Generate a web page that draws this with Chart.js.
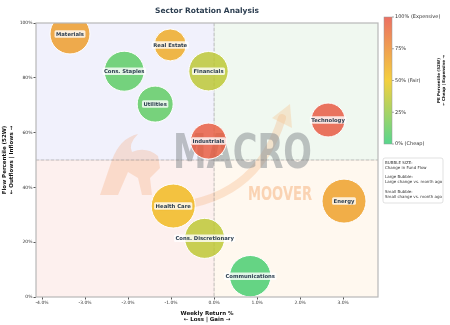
<!DOCTYPE html>
<html>
<head>
<meta charset="utf-8">
<script src="https://cdn.jsdelivr.net/npm/chart.js@4.4.0/dist/chart.umd.min.js"></script>
<style>
html, body { margin: 0; padding: 0; background: #fff; }
</style>
</head>
<body>
<canvas id="sectorChart" width="450" height="325"></canvas>
<script>
// Dados dos setores
const sectors = ['Materials', 'Real Estate', 'Cons. Staples', 'Financials', 'Utilities', 'Technology',
    'Industrials', 'Health Care', 'Energy', 'Cons. Discretionary', 'Communications'];
const weeklyReturn = [-3.35, -1.02, -2.09, -0.13, -1.37, 2.65, -0.13, -0.95, 3.02, -0.22, 0.84];
const flowPercentile = [96, 92, 82.4, 82.4, 70.4, 64.6, 56.9, 33.2, 35.0, 21.4, 7.6];
const pePercentile = [68, 62, 10, 36, 11, 98, 96, 56, 67, 36, 4];
const flowChange = [100, 64, 100, 97, 81, 72, 81, 121, 121, 100, 107];

const xTicks = [-4, -3, -2, -1, 0, 1, 2, 3];
const yTicks = [0, 20, 40, 60, 80, 100];
const peTicks = [0, 25, 50, 75, 100];
const peTickLabels = ['0% (Cheap)', '25%', '50% (Fair)', '75%', '100% (Expensive)'];
const legendLines = ['BUBBLE SIZE:', 'Change in Fund Flow', '', 'Large Bubble:', 'Large change vs. month ago',
    '', 'Small Bubble:', 'Small change vs. month ago'];

const FONT = "'DejaVu Sans', sans-serif";
const textDark = '#2c3e50';

// Escala de cor: verde (barato) -> amarelo -> vermelho (caro)
const stops = [[46, 204, 113], [241, 196, 15], [231, 76, 60]];
function peColor(p, alpha = 0.8) {
    const t = Math.max(0, Math.min(1, p / 100)) * 2;
    const i = Math.min(1, Math.floor(t));
    const f = t - i;
    const a = stops[i], b = stops[i + 1];
    const c = a.map((v, k) => Math.round(v + (b[k] - v) * f));
    return `rgba(${c[0]},${c[1]},${c[2]},${alpha})`;
}

// Fundo dos quadrantes, linhas de referência e marca d'água
const quadrantPlugin = {
    id: 'quadrants',
    beforeDraw(chart) {
        const { ctx, chartArea: a, scales: { x, y } } = chart;
        const x0 = x.getPixelForValue(0);
        const y50 = y.getPixelForValue(50);
        ctx.save();
        ctx.fillStyle = '#fff';
        ctx.fillRect(0, 0, chart.width, chart.height);
        ctx.fillStyle = '#f1f1fc';
        ctx.fillRect(a.left, a.top, x0 - a.left, y50 - a.top);
        ctx.fillStyle = '#f0f8f0';
        ctx.fillRect(x0, a.top, a.right - x0, y50 - a.top);
        ctx.fillStyle = '#fdf0ee';
        ctx.fillRect(a.left, y50, x0 - a.left, a.bottom - y50);
        ctx.fillStyle = '#fff8ef';
        ctx.fillRect(x0, y50, a.right - x0, a.bottom - y50);
        ctx.restore();
    },
    beforeDatasetsDraw(chart) {
        const { ctx, chartArea: a, scales: { x, y } } = chart;
        const x0 = x.getPixelForValue(0);
        const y50 = y.getPixelForValue(50);
        ctx.save();
        ctx.beginPath();
        ctx.rect(a.left, a.top, a.right - a.left, a.bottom - a.top);
        ctx.clip();

        // marca d'água: cabeça de touro + seta
        ctx.fillStyle = 'rgba(246, 160, 110, 0.28)';
        ctx.beginPath();
        ctx.moveTo(100, 195);
        ctx.lineTo(112, 160);
        ctx.quadraticCurveTo(120, 138, 138, 134);
        ctx.quadraticCurveTo(128, 144, 132, 152);
        ctx.quadraticCurveTo(146, 146, 158, 156);
        ctx.lineTo(160, 168);
        ctx.lineTo(150, 178);
        ctx.lineTo(152, 195);
        ctx.lineTo(142, 195);
        ctx.lineTo(138, 178);
        ctx.lineTo(128, 172);
        ctx.lineTo(118, 195);
        ctx.closePath();
        ctx.fill();

        ctx.strokeStyle = 'rgba(246, 170, 110, 0.28)';
        ctx.lineWidth = 8;
        ctx.lineCap = 'round';
        ctx.beginPath();
        ctx.moveTo(160, 207);
        ctx.quadraticCurveTo(255, 205, 282, 118);
        ctx.stroke();
        ctx.fillStyle = 'rgba(246, 195, 140, 0.35)';
        ctx.beginPath();
        ctx.moveTo(290, 104);
        ctx.lineTo(292, 128);
        ctx.lineTo(272, 118);
        ctx.closePath();
        ctx.fill();

        ctx.textBaseline = 'alphabetic';
        ctx.textAlign = 'left';
        ctx.font = `bold 48px ${FONT}`;
        let w = ctx.measureText('MACRO').width;
        ctx.save();
        ctx.translate(173, 168);
        ctx.scale(139 / w, 1);
        ctx.fillStyle = 'rgba(140, 146, 150, 0.55)';
        ctx.fillText('MACRO', 0, 0);
        ctx.restore();

        ctx.font = `bold 20px ${FONT}`;
        w = ctx.measureText('MOOVER').width;
        ctx.save();
        ctx.translate(248, 200);
        ctx.scale(64 / w, 1);
        ctx.fillStyle = 'rgba(246, 180, 130, 0.55)';
        ctx.fillText('MOOVER', 0, 0);
        ctx.restore();

        // linhas tracejadas de referência
        ctx.strokeStyle = 'rgba(120, 120, 120, 0.6)';
        ctx.lineWidth = 0.8;
        ctx.setLineDash([3, 2]);
        ctx.beginPath();
        ctx.moveTo(x0, a.top);
        ctx.lineTo(x0, a.bottom);
        ctx.moveTo(a.left, y50);
        ctx.lineTo(a.right, y50);
        ctx.stroke();
        ctx.restore();
    }
};

// Rótulos dos setores sobre as bolhas
const labelPlugin = {
    id: 'bubbleLabels',
    afterDatasetsDraw(chart) {
        const { ctx } = chart;
        const meta = chart.getDatasetMeta(0);
        ctx.save();
        ctx.font = `bold 5.3px ${FONT}`;
        ctx.textAlign = 'center';
        ctx.textBaseline = 'middle';
        meta.data.forEach((pt, i) => {
            const w = ctx.measureText(sectors[i]).width + 3;
            const h = 7.5;
            ctx.fillStyle = 'rgba(255,255,255,0.8)';
            ctx.beginPath();
            ctx.roundRect(pt.x - w / 2, pt.y - h / 2, w, h, 1.5);
            ctx.fill();
            ctx.fillStyle = textDark;
            ctx.fillText(sectors[i], pt.x, pt.y + 0.3);
        });
        ctx.restore();
    }
};

// Moldura, barra de cores e caixa de legenda
const sidePlugin = {
    id: 'sidePanel',
    afterDraw(chart) {
        const { ctx, chartArea: a } = chart;
        ctx.save();
        ctx.strokeStyle = '#b8b8b8';
        ctx.lineWidth = 1.2;
        ctx.strokeRect(a.left, a.top, a.right - a.left, a.bottom - a.top);

        // barra de cores
        const cx = 384, cw = 8, top = 17, bottom = 144;
        const grad = ctx.createLinearGradient(0, bottom, 0, top);
        for (let p = 0; p <= 100; p += 10) grad.addColorStop(p / 100, peColor(p));
        ctx.fillStyle = grad;
        ctx.fillRect(cx, top, cw, bottom - top);
        ctx.strokeStyle = '#999';
        ctx.lineWidth = 0.5;
        ctx.strokeRect(cx, top, cw, bottom - top);

        ctx.font = `5px ${FONT}`;
        ctx.fillStyle = '#333';
        ctx.textAlign = 'left';
        ctx.textBaseline = 'middle';
        ctx.strokeStyle = '#555';
        peTicks.forEach((p, i) => {
            const yy = bottom - (bottom - top) * p / 100;
            ctx.beginPath();
            ctx.moveTo(cx + cw, yy);
            ctx.lineTo(cx + cw + 2, yy);
            ctx.stroke();
            ctx.fillText(peTickLabels[i], cx + cw + 3, yy);
        });

        ctx.save();
        ctx.translate(439, (top + bottom) / 2);
        ctx.rotate(-Math.PI / 2);
        ctx.font = `bold 4px ${FONT}`;
        ctx.fillStyle = '#111';
        ctx.textAlign = 'center';
        ctx.fillText('PE Percentile (52W)', 0, 0);
        ctx.fillText('← Cheap | Expensive →', 0, 4.5);
        ctx.restore();

        // caixa de legenda
        ctx.fillStyle = 'rgba(255,255,255,0.9)';
        ctx.strokeStyle = '#ccc';
        ctx.lineWidth = 0.6;
        ctx.beginPath();
        ctx.roundRect(383, 158, 60, 45, 2);
        ctx.fill();
        ctx.stroke();
        ctx.font = `4px ${FONT}`;
        ctx.fillStyle = '#333';
        legendLines.forEach((t, i) => {
            if (t) ctx.fillText(t, 385, 163 + i * 4.8);
        });
        ctx.restore();
    }
};

const ctx = document.getElementById('sectorChart');

new Chart(ctx, {
    type: 'bubble',
    data: {
        datasets: [{
            data: sectors.map((s, i) => ({
                x: weeklyReturn[i],
                y: flowPercentile[i],
                r: 2 * Math.sqrt(flowChange[i])
            })),
            backgroundColor: pePercentile.map(p => peColor(p)),
            borderColor: '#ffffff',
            borderWidth: 1,
            clip: 0,
        }]
    },
    options: {
        responsive: false,
        animation: false,
        devicePixelRatio: 1,
        layout: {
            padding: { left: 0, right: 72, top: 0, bottom: 0 }
        },
        plugins: {
            legend: { display: false },
            tooltip: { enabled: false },
            title: {
                display: true,
                text: 'Sector Rotation Analysis',
                fullSize: false,
                color: textDark,
                font: { family: FONT, size: 7.5, weight: 'bold' },
                padding: { top: 2, bottom: 7 }
            }
        },
        scales: {
            x: {
                type: 'linear',
                min: -4.14,
                max: 3.81,
                afterBuildTicks: (scale) => {
                    scale.ticks = xTicks.map(v => ({ value: v }));
                },
                afterFit: (scale) => { scale.height = 28; },
                ticks: {
                    callback: (v) => v.toFixed(1) + '%',
                    font: { family: FONT, size: 4.5 },
                    color: '#333',
                    padding: 1,
                    maxRotation: 0,
                },
                grid: {
                    drawOnChartArea: false,
                    tickLength: 2.5,
                    color: '#555',
                },
                border: { display: false },
                title: {
                    display: true,
                    text: ['Weekly Return %', '← Loss | Gain →'],
                    color: '#111',
                    font: { family: FONT, size: 5.5, weight: 'bold' },
                    padding: { top: 0, bottom: 2 }
                }
            },
            y: {
                type: 'linear',
                min: 0,
                max: 100,
                afterBuildTicks: (scale) => {
                    scale.ticks = yTicks.map(v => ({ value: v }));
                },
                afterFit: (scale) => { scale.width = 36; },
                ticks: {
                    callback: (v) => v + '%',
                    font: { family: FONT, size: 4.5 },
                    color: '#333',
                    padding: 1,
                },
                grid: {
                    drawOnChartArea: false,
                    tickLength: 2.5,
                    color: '#555',
                },
                border: { display: false },
                title: {
                    display: true,
                    text: ['Flow Percentile (52W)', '← Outflows | Inflows →'],
                    color: '#111',
                    font: { family: FONT, size: 5.5, weight: 'bold' },
                    padding: { top: 1.5, bottom: 0 }
                }
            }
        }
    },
    plugins: [quadrantPlugin, labelPlugin, sidePlugin]
});
</script>
</body>
</html>
